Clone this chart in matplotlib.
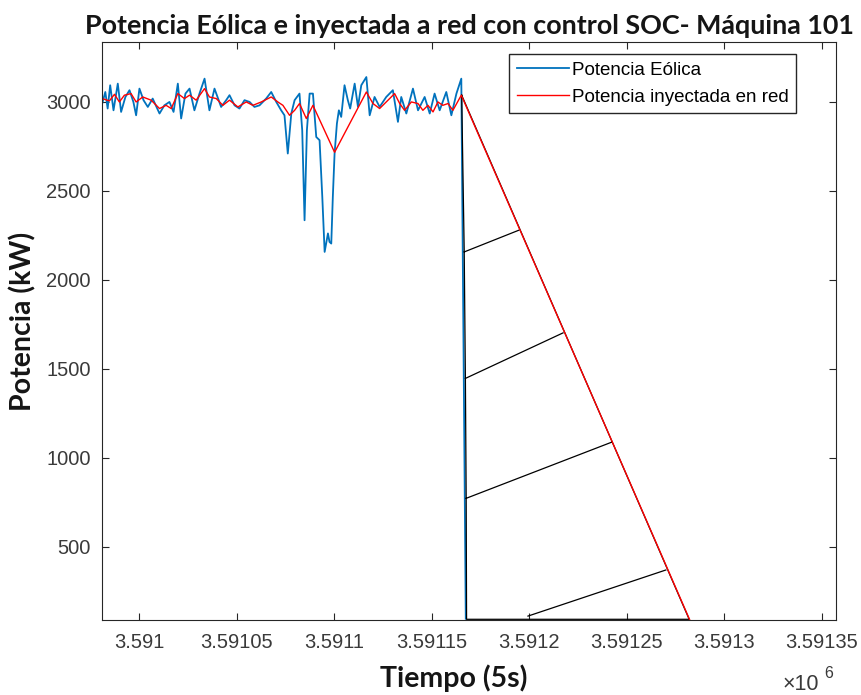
import matplotlib

matplotlib.use("Agg")

import matplotlib.pyplot as plt
import matplotlib.ticker as mticker
import numpy as np

plt.rcParams.update(
    {
        "font.family": ["Liberation Sans", "DejaVu Sans"],
        "axes.linewidth": 0.8,
        "axes.edgecolor": "#262626",
    }
)

nan = np.nan

# Wind power (kW) vs time step (5 s samples)
wind_t = [
    3590980.9, 3590982.5, 3590983.7, 3590985.0, 3590986.7, 3590988.9, 3590990.6,
    3590992.8, 3590994.9, 3590996.9, 3590998.3, 3591000.0, 3591002.1, 3591004.3,
    3591006.8, 3591010.3, 3591012.8, 3591015.4, 3591017.5, 3591019.7, 3591021.4,
    3591023.6, 3591025.7, 3591028.2, 3591030.8, 3591033.4, 3591035.9, 3591038.5,
    3591041.9, 3591044.5, 3591046.2, 3591048.8, 3591051.3, 3591053.9, 3591056.5,
    3591059.0, 3591061.6, 3591065.0, 3591067.6, 3591070.2, 3591072.7, 3591074.4,
    3591076.1, 3591077.9, 3591079.6, 3591082.1, 3591083.5, 3591084.7, 3591085.9,
    3591087.3, 3591089.0, 3591090.7, 3591092.4, 3591093.8, 3591095.0, 3591096.7,
    3591097.5, 3591098.4, 3591099.2, 3591100.1, 3591101.3, 3591102.3, 3591103.5,
    3591105.2, 3591106.9, 3591108.1, 3591110.4, 3591112.1, 3591113.8, 3591116.4,
    3591118.1, 3591120.6, 3591123.2, 3591126.6, 3591130.0, 3591132.6, 3591134.3,
    3591136.9, 3591140.3, 3591142.9, 3591146.3, 3591148.9, 3591151.4, 3591154.0,
    3591157.4, 3591160.0, 3591162.6, 3591165.1, 3591167.4,
]
wind_p = [
    2991, 3056, 2963, 3094, 2953, 3103, 2944,
    3028, 3066, 3000, 2925, 3075, 3010, 2972,
    3019, 2935, 2981, 3000, 2944, 3103, 2907,
    3047, 3075, 2953, 3047, 3131, 2953, 3075,
    2972, 3010, 3038, 2981, 2963, 3010, 3000,
    2972, 2981, 3019, 3056, 3000, 2953, 2925,
    2710, 2935, 3010, 3047, 2841, 2335, 2841,
    3047, 3047, 2803, 2785, 2466, 2157, 2261,
    2213, 2204, 2466, 2710, 2879, 2953, 2916,
    3094, 3010, 2963, 3103, 2972, 3094, 3140,
    2925, 3028, 2972, 3028, 3066, 2888, 3028,
    2935, 3075, 2953, 3028, 2935, 3047, 2953,
    3056, 2925, 3047, 3131, 95,
]

# Power injected into the grid (kW)
grid_t = [
    3590980.9, 3590984.6, 3590987.2, 3590989.7, 3590992.3, 3590995.7, 3590998.3,
    3591001.7, 3591006.0, 3591010.3, 3591013.7, 3591016.3, 3591019.7, 3591023.1,
    3591025.7, 3591029.1, 3591033.4, 3591035.9, 3591039.4, 3591042.8, 3591046.2,
    3591050.5, 3591054.8, 3591058.2, 3591062.5, 3591067.6, 3591071.0, 3591073.6,
    3591077.0, 3591079.6, 3591082.1, 3591085.6, 3591089.0, 3591100.1, 3591116.4,
    3591119.8, 3591123.2, 3591126.6, 3591130.9, 3591133.5, 3591136.0, 3591139.5,
    3591142.9, 3591145.4, 3591148.0, 3591150.6, 3591153.1, 3591155.6, 3591158.3,
    3591160.8, 3591165.1, 3591282.3,
]
grid_p = [
    3019, 3006, 3043, 3000, 3038, 3047, 3000,
    3028, 3010, 2963, 2981, 2963, 3047, 3019,
    3038, 3010, 3075, 3028, 3019, 2981, 3010,
    2972, 3000, 2981, 3000, 3028, 3000, 2981,
    2925, 2953, 2991, 2907, 2981, 2717, 3056,
    2991, 2963, 3000, 3047, 2991, 2953, 3000,
    2991, 2953, 2981, 2944, 3000, 2981, 2991,
    2953, 3038, 88,
]

# Black trace (NaN breaks between pieces)
soc_t = [
    3591165.3, 3591166.6, 3591167.2, 3591167.6, 3591167.8, 3591282.0, 3591165.3, nan,
    3591166.6, 3591194.6, nan,
    3591167.2, 3591217.3, nan,
    3591167.6, 3591242.1, nan,
    3591199.3, 3591270.0,
]
soc_p = [
    3038, 2157, 1446, 772, 92, 92, 3038, nan,
    2157, 2279, nan,
    1446, 1702, nan,
    772, 1087, nan,
    110, 369,
]

x_ticks = [3591000, 3591050, 3591100, 3591150, 3591200, 3591250, 3591300, 3591350]
y_ticks = [500, 1000, 1500, 2000, 2500, 3000]

fig = plt.figure(figsize=(8.61, 6.95), dpi=100)
ax = fig.add_axes([102 / 861, 1 - 620 / 695, 734 / 861, 578 / 695])

ax.plot(wind_t, wind_p, color="#0072BD", lw=1.3, label="Potencia Eólica")
ax.plot(soc_t, soc_p, color="#000000", lw=0.9)
ax.plot(grid_t, grid_p, color="#FF0000", lw=1.0, label="Potencia inyectada en red")

ax.set_xlim(3590980.8, 3591357.3)
ax.set_ylim(88, 3337)
ax.set_xticks(x_ticks)
ax.set_yticks(y_ticks)
ax.xaxis.set_major_formatter(mticker.FuncFormatter(lambda v, _: "%g" % (v / 1e6)))

ax.tick_params(
    direction="in", length=5, width=0.8, top=True, right=True,
    labelsize=14.5, labelcolor="#3a3a3a", color="#262626",
)
ax.tick_params(axis="x", pad=9)
ax.tick_params(axis="y", pad=8)

fig.text(783 / 861, 1 - 685 / 695, "×10", fontsize=15.5, color="#3a3a3a",
         ha="left", va="center")
fig.text(824 / 861, 1 - 673 / 695, "6", fontsize=11.5, color="#3a3a3a",
         ha="left", va="center")

lab = dict(family=["Lato", "DejaVu Sans"], fontweight="bold", color="#151515")
ax.set_title("Potencia Eólica e inyectada a red con control SOC- Máquina 101",
             pad=6, fontsize=19.4, **lab)
ax.set_xlabel("Tiempo (5s)", fontsize=20.5, **lab)
ax.set_ylabel("Potencia (kW)", fontsize=20.5, **lab)
ax.xaxis.set_label_coords((454 - 102) / 734, (620 - 664) / 578)
ax.yaxis.set_label_coords((36 - 102) / 734, (620 - 321) / 578)

leg = ax.legend(
    loc="upper left", bbox_to_anchor=(509 / 861, 1 - 54 / 695),
    bbox_transform=fig.transFigure, borderaxespad=0, fontsize=13.5,
    handlelength=2.77, handletextpad=0.16, labelspacing=0.5, borderpad=0.42,
    fancybox=False, framealpha=1, edgecolor="#262626",
)
leg.get_frame().set_linewidth(1.0)

fig.savefig("out.png", dpi=100)
